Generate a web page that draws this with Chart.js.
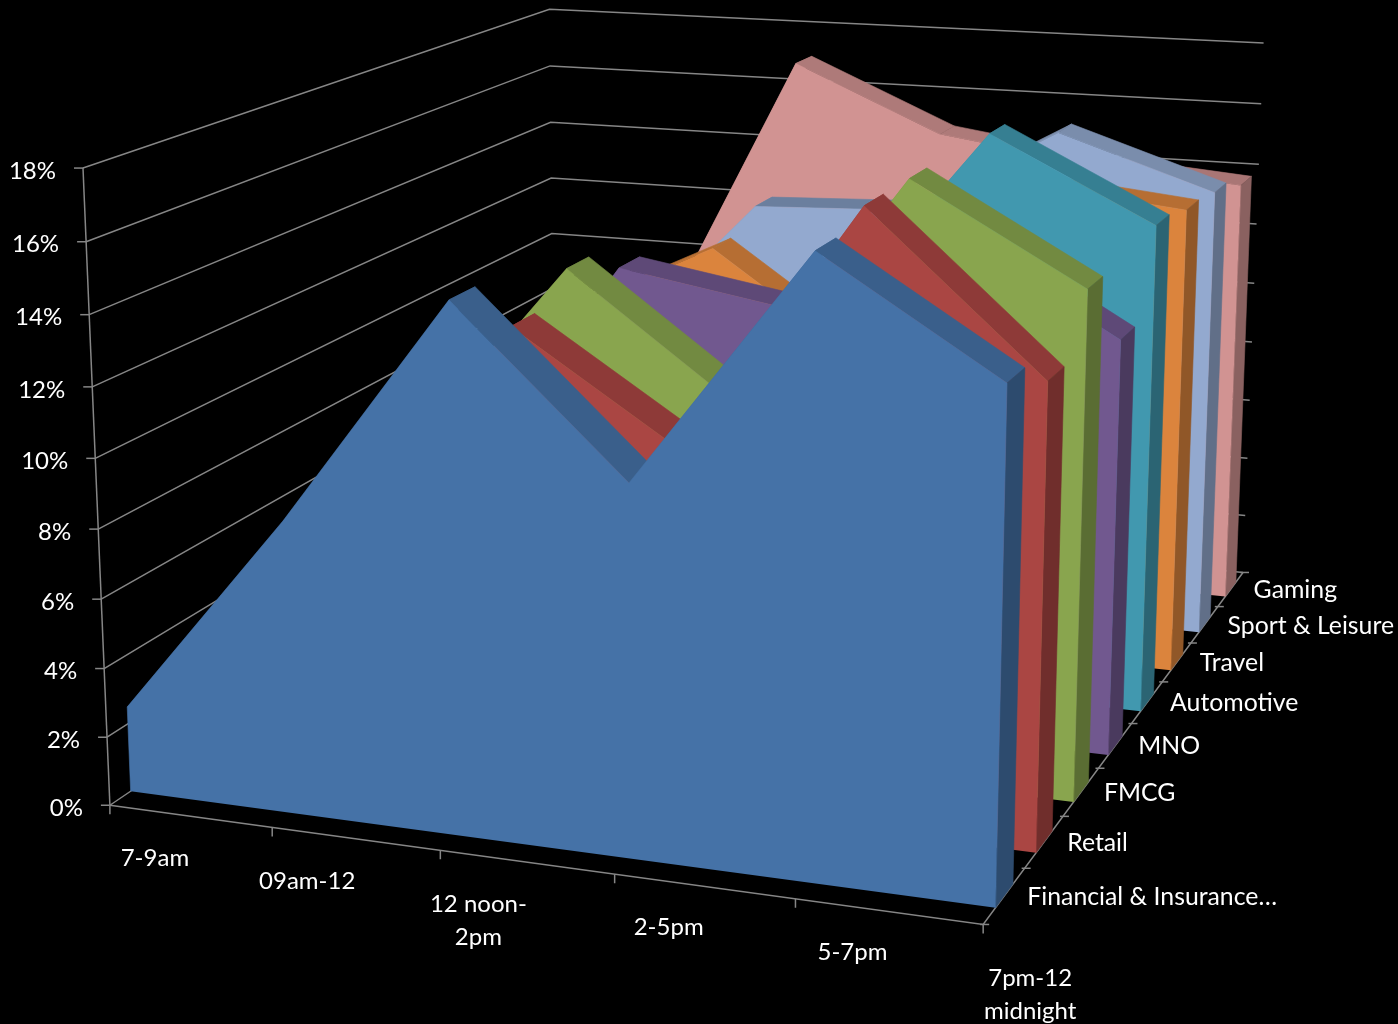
<!DOCTYPE html>
<html>
<head>
<meta charset="utf-8">
<title>Share by time of day</title>
<script src="https://cdn.jsdelivr.net/npm/chart.js@4"></script>
<style>
    html, body { margin: 0; background: #000; }
    canvas { display: block; }
</style>
</head>
<body>
<canvas id="chart" width="1398" height="1024"></canvas>
<script>
const categories = [['7-9am'], ['09am-12'], ['12 noon-', '2pm'], ['2-5pm'], ['5-7pm'], ['7pm-12', 'midnight']]
const seriesNames = ['Financial & Insurance…', 'Retail', 'FMCG', 'MNO', 'Automotive', 'Travel', 'Sport & Leisure', 'Gaming']
const valueTicks = [0, 2, 4, 6, 8, 10, 12, 14, 16, 18]

const financial = [2.5, 8.4, 14.9, 10.4, 16.9, 13.9]
const retail = [1.7, 7.5, 13.3, 10.2, 17.3, 13.0]
const fmcg = [2.0, 8.3, 14.1, 10.6, 17.3, 14.6]
const mno = [2.1, 6.6, 13.3, 12.5, 15.1, 12.3]
const automotive = [2.2, 6.6, 10.6, 11.1, 17.2, 14.8]
const travel = [3.1, 9.9, 12.3, 9.0, 15.0, 14.5]
const sportLeisure = [2.7, 7.8, 12.9, 13.1, 15.9, 14.3]
const gaming = [2.1, 7.3, 17.0, 14.9, 14.2, 13.8]
const seriesValues = [financial, retail, fmcg, mno, automotive, travel, sportLeisure, gaming]

const maxValue = 18

const fills = ['#4572A7', '#AA4643', '#89A54E', '#71588F', '#4198AF', '#DB843D', '#93A9CF', '#D19392']
const strips = ['#3A5F8B', '#8E3A38', '#728A41', '#5E4977', '#367F92', '#B66E33', '#7A8DAC', '#AE7A79']
const flatStrips = ['#3A5F8B', '#8E3A38', '#728A41', '#5E4977', '#367F92', '#A9682E', '#6B7F9E', '#A97675']
const sides = ['#2D4B6E', '#702E2C', '#5A6D33', '#4A3A5E', '#2B6473', '#905728', '#616F88', '#8A6160']

// box edges on screen: u along the time axis, v into the depth, w up the value axis, each 0..1
// repeated rows count for more in the fit
const boxAnchors = [
    [0,0,0,110,807],[0,0,0,110,807],[0,0,0,110,807],[.2,0,0,272,829],[.4,0,0,440,852],[.6,0,0,614,875],[.8,0,0,795,900],[1,0,0,982,924],
    [1,.25,0,1065,816],[1,.5,0,1132,723],[1,.75,0,1193,642],[1,1,0,1242,572],
    [0,0,2/9,104,670],[0,0,5/9,93,459],[0,0,5/9,93,459],[0,0,1,83,169],[0,0,1,83,169],[0,0,1,83,169],
    [0,.034,0,131,793],[0,.034,0,131,793],[0,.034,1/9,128,708],
    [0,1,1,551,8],[0,1,8/9,551,65],[0,1,5/9,552,233],[0,1,0,552,508],
    [1,1,1,1263,44],[1,1,8/9,1262,104],[1,1,5/9,1253,283],[1,1,2/9,1247,458],
]

// least squares for the 11 terms of a perspective camera
function solveCamera(anchors) {
    const n = 11
    const a = Array.from({length: n}, () => new Array(n + 1).fill(0))
    const add = (row, rhs) => {
        for (let i = 0; i < n; i++) {
            for (let j = 0; j < n; j++) a[i][j] += row[i] * row[j]
            a[i][n] += row[i] * rhs
        }
    }
    anchors.forEach(([u, v, w, x, y]) => {
        add([u, v, w, 1, 0, 0, 0, 0, -x * u, -x * v, -x * w], x)
        add([0, 0, 0, 0, u, v, w, 1, -y * u, -y * v, -y * w], y)
    })
    for (let c = 0; c < n; c++) {
        let best = c
        for (let r = c + 1; r < n; r++) if (Math.abs(a[r][c]) > Math.abs(a[best][c])) best = r
        ;[a[c], a[best]] = [a[best], a[c]]
        for (let r = 0; r < n; r++) {
            if (r === c) continue
            const f = a[r][c] / a[c][c]
            for (let k = c; k <= n; k++) a[r][k] -= f * a[c][k]
        }
    }
    return a.map((row, i) => row[n] / row[i])
}

const cam = solveCamera(boxAnchors)

function project(u, v, w) {
    const d = cam[8] * u + cam[9] * v + cam[10] * w + 1
    return {
        x: (cam[0] * u + cam[1] * v + cam[2] * w + cam[3]) / d,
        y: (cam[4] * u + cam[5] * v + cam[6] * w + cam[7]) / d,
    }
}

const layers = []
const polygon = (points, color) => layers.push({
    data: points, showLine: true, fill: 'shape', backgroundColor: color,
    borderColor: color, borderWidth: 0.6, pointRadius: 0, tension: 0,
})
const stroke = (points, width = 1.5) => layers.push({
    data: points, showLine: true, fill: false, borderColor: '#868686', borderWidth: width, pointRadius: 0, tension: 0,
})

// walls and floor edges
valueTicks.forEach(t => {
    const w = t / maxValue
    stroke([project(0, 0, w), project(0, 1, w), project(1, 1, w)])
    const p = project(0, 0, w)
    stroke([{x: p.x - 9, y: p.y}, p])
})
stroke([project(0, 0, 0), project(0, 0, 1)])
stroke([project(0, 0, 0), project(1, 0, 0), project(1, 1, 0)])
categories.forEach((c, k) => {
    const p = project(k / (categories.length - 1), 0, 0)
    stroke([p, {x: p.x, y: p.y + 9}])
})
seriesNames.concat(['']).forEach((s, i) => {
    const p = project(1, i / seriesNames.length, 0)
    stroke([{x: p.x - 3, y: p.y}, {x: p.x + 6, y: p.y}])
})

// series from the back of the floor to the front
for (let i = seriesNames.length - 1; i >= 0; i--) {
    const vf = (i + 0.29) / seriesNames.length
    const vb = (i + 0.71) / seriesNames.length
    const vals = seriesValues[i]
    const last = vals.length - 1
    for (let k = 0; k < last; k++) {
        const flat = Math.abs(vals[k + 1] - vals[k]) < 0.5
        polygon([
            project(k / last, vf, vals[k] / maxValue), project(k / last, vb, vals[k] / maxValue),
            project((k + 1) / last, vb, vals[k + 1] / maxValue), project((k + 1) / last, vf, vals[k + 1] / maxValue),
        ], flat ? flatStrips[i] : strips[i])
    }
    polygon([
        project(1, vf, 0), project(1, vb, 0),
        project(1, vb, vals[last] / maxValue), project(1, vf, vals[last] / maxValue),
    ], sides[i])
    polygon([
        project(0, vf, 0),
        ...vals.map((val, k) => project(k / last, vf, val / maxValue)),
        project(1, vf, 0),
    ], fills[i])
}

const axisLabels = {
    id: 'axisLabels',
    afterDraw(chart) {
        const {ctx, scales: {x, y}} = chart
        const px = p => x.getPixelForValue(p.x)
        const py = p => y.getPixelForValue(p.y)
        ctx.save()
        ctx.fillStyle = '#fff'
        ctx.font = '24px Lato'
        ctx.textBaseline = 'middle'

        ctx.textAlign = 'right'
        valueTicks.forEach(t => {
            const p = project(0, 0, t / maxValue)
            ctx.fillText(t + '%', px(p) - 27, py(p) + 3)
        })

        ctx.textAlign = 'center'
        const nudges = [45, 35, 38, 54, 57, 47]
        categories.forEach((lines, k) => {
            const p = project(k / (categories.length - 1), 0, 0)
            lines.forEach((line, n) => ctx.fillText(line, px(p) + nudges[k], py(p) + 53.5 + n * 33))
        })

        ctx.font = '24.8px Lato'
        ctx.textAlign = 'left'
        seriesNames.forEach((name, i) => {
            const p = project(1, (i + 0.5) / seriesNames.length, 0)
            ctx.fillText(name, px(p) + 23, py(p) + 1)
        })
        ctx.restore()
    },
}

new Chart(document.getElementById('chart'), {
    type: 'scatter',
    data: {datasets: layers.reverse()},
    options: {
        responsive: false,
        animation: false,
        layout: {padding: 0},
        scales: {
            x: {type: 'linear', min: 0, max: 1398, display: false},
            y: {type: 'linear', min: 0, max: 1024, reverse: true, display: false},
        },
        plugins: {legend: {display: false}, tooltip: {enabled: false}},
    },
    plugins: [axisLabels],
})
</script>
</body>
</html>
